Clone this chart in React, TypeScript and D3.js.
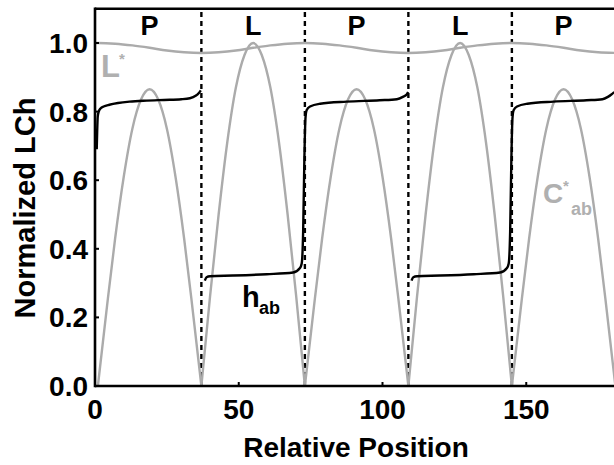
import React from "react";
import * as d3 from "d3";

// ---- data ----
const xTicks = [0, 50, 100, 150];
const yTicks = [0, 0.2, 0.4, 0.6, 0.8, 1.0];
const boundaries = [37, 73, 109, 145];
const regionLabels = ["P", "L", "P", "L", "P"];
const regionCenters = [19, 55, 91, 127, 163];

// C*ab chroma (grey arches)
const chromaX = [
  1, 4, 7, 10, 13, 16, 19, 22, 25, 28, 31, 34, 37,
  40, 43, 46, 49, 52, 55, 58, 61, 64, 67, 70, 73,
  76, 79, 82, 85, 88, 91, 94, 97, 100, 103, 106, 109,
  112, 115, 118, 121, 124, 127, 130, 133, 136, 139, 142, 145,
  148, 151, 154, 157, 160, 163, 166, 169, 172, 175, 178, 181,
];
const chromaY = [
  0, 0.22, 0.43, 0.61, 0.75, 0.835, 0.865, 0.835, 0.75, 0.61, 0.43, 0.22, 0,
  0.26, 0.5, 0.71, 0.87, 0.965, 1.0, 0.965, 0.87, 0.71, 0.5, 0.26, 0,
  0.22, 0.43, 0.61, 0.75, 0.835, 0.865, 0.835, 0.75, 0.61, 0.43, 0.22, 0,
  0.26, 0.5, 0.71, 0.87, 0.965, 1.0, 0.965, 0.87, 0.71, 0.5, 0.26, 0,
  0.22, 0.43, 0.61, 0.75, 0.835, 0.865, 0.835, 0.75, 0.61, 0.43, 0.22, 0,
];

// L* lightness (grey, near 1.0)
const lightX = [
  0, 1, 7, 13, 19, 25, 31, 37, 43, 49, 55, 61, 67, 73, 79, 85, 91, 97, 103, 109,
  115, 121, 127, 133, 139, 145, 151, 157, 163, 169, 175, 181,
];
const lightY = [
  1.0, 1.0, 0.998, 0.993, 0.986, 0.978, 0.973, 0.971, 0.973, 0.978, 0.986, 0.993, 0.998, 1.0,
  0.998, 0.993, 0.986, 0.978, 0.973, 0.971, 0.973, 0.978, 0.986, 0.993, 0.998, 1.0,
  0.998, 0.993, 0.986, 0.978, 0.973, 0.971,
];

// h_ab hue (black), three separate pieces
const hueP1: [number, number][] = [
  [0.6, 0.69], [0.75, 0.74], [0.95, 0.785], [1.3, 0.8], [2, 0.81], [3, 0.815], [5, 0.82],
  [8, 0.825], [12, 0.829], [18, 0.832], [24, 0.834], [30, 0.836], [33, 0.839], [35, 0.846],
  [36.2, 0.855], [36.8, 0.862],
];
const hueL1P2: [number, number][] = [
  [38.2, 0.307], [38.8, 0.317], [40, 0.32], [48, 0.322], [59.7, 0.326], [68.9, 0.331],
  [71.3, 0.344], [71.9, 0.357], [72.4, 0.45], [72.8, 0.65], [73.2, 0.78], [73.6, 0.804],
  [74.8, 0.815], [78.3, 0.823], [87.5, 0.829], [99, 0.833], [105, 0.836], [107.1, 0.843],
  [108.4, 0.85], [108.9, 0.857],
];
const hueL2P3: [number, number][] = [
  [110.1, 0.307], [110.7, 0.317], [112, 0.32], [120, 0.322], [131.7, 0.326], [140.9, 0.331],
  [143.3, 0.344], [143.9, 0.357], [144.4, 0.45], [144.8, 0.65], [145.2, 0.78], [145.6, 0.804],
  [146.8, 0.815], [150.4, 0.823], [159.5, 0.829], [171, 0.833], [176.5, 0.836], [178.4, 0.843],
  [179.6, 0.85], [180.6, 0.857],
];

const W = 614;
const H = 465;
const FONT = "'Liberation Sans', Arial, Helvetica, sans-serif";
const GREY = "#ababab";
const GREY_TEXT = "#b0b0b0";

export default function App() {
  const x = d3.scaleLinear().domain([0, 180]).range([95, 612.5]);
  const y = d3.scaleLinear().domain([0, 1.1]).range([386, 8.7]);

  const lineSmooth = d3
    .line<[number, number]>()
    .x((d) => x(d[0]))
    .y((d) => y(d[1]))
    .curve(d3.curveMonotoneX);

  // split chroma into arches at zero points
  const arches: [number, number][][] = [];
  let cur: [number, number][] = [];
  chromaX.forEach((cx, i) => {
    const p: [number, number] = [cx, chromaY[i]];
    cur.push(p);
    if (chromaY[i] === 0 && cur.length > 1) {
      arches.push(cur);
      cur = [p];
    }
  });
  if (cur.length > 1) arches.push(cur);

  const lightPts: [number, number][] = lightX.map((lx, i) => [lx, lightY[i]]);

  const x0 = x.range()[0];
  const yBot = y(0);
  const yTop = y(1.1);

  return (
    <svg
      width={W}
      height={H}
      style={{ position: "absolute", left: 0, top: 0, background: "#fff" }}
      fontFamily={FONT}
      fontWeight="bold"
    >
      <defs>
        <clipPath id="plotClip">
          <rect x={x0} y={yTop} width={W - x0} height={yBot - yTop} />
        </clipPath>
      </defs>

      <g clipPath="url(#plotClip)">
        {/* boundaries */}
        {boundaries.map((b) => (
          <line
            key={b}
            x1={x(b)}
            x2={x(b)}
            y1={yBot}
            y2={yTop}
            stroke="#000"
            strokeWidth={2.4}
            strokeDasharray="5,4"
          />
        ))}
        {/* L* */}
        <path d={lineSmooth(lightPts) || ""} fill="none" stroke={GREY} strokeWidth={2.4} />
        {/* C*ab */}
        {arches.map((a, i) => (
          <path key={i} d={lineSmooth(a) || ""} fill="none" stroke={GREY} strokeWidth={2.4} />
        ))}
        {/* h_ab */}
        {[hueP1, hueL1P2, hueL2P3].map((seg, i) => (
          <path key={i} d={lineSmooth(seg) || ""} fill="none" stroke="#000" strokeWidth={2.4} />
        ))}
      </g>

      {/* frame */}
      <line x1={x0} x2={W} y1={yTop} y2={yTop} stroke="#000" strokeWidth={2.6} />
      <line x1={x0} x2={W} y1={yBot} y2={yBot} stroke="#000" strokeWidth={2.6} />
      <line x1={x0} x2={x0} y1={yTop - 1.3} y2={yBot + 1.3} stroke="#000" strokeWidth={2.6} />

      {/* y ticks */}
      {yTicks.map((t) => (
        <g key={t}>
          <line x1={x0} x2={x0 + 4} y1={y(t)} y2={y(t)} stroke="#000" strokeWidth={2} />
          <text x={88} y={y(t)} dy="0.36em" textAnchor="end" fontSize={28} fill="#000">
            {t.toFixed(1)}
          </text>
        </g>
      ))}
      {/* x ticks */}
      {xTicks.map((t) => (
        <g key={t}>
          <line x1={x(t)} x2={x(t)} y1={yBot} y2={yBot - 4} stroke="#000" strokeWidth={2} />
          <text x={x(t)} y={419} textAnchor="middle" fontSize={28} fill="#000">
            {t}
          </text>
        </g>
      ))}

      {/* axis titles */}
      <text x={356} y={457} textAnchor="middle" fontSize={28} fill="#000">
        Relative Position
      </text>
      <text
        transform={`translate(35,208) rotate(-90)`}
        textAnchor="middle"
        fontSize={29}
        fill="#000"
      >
        Normalized LCh
      </text>

      {/* region labels */}
      {regionLabels.map((r, i) => (
        <text key={i} x={x(regionCenters[i])} y={35} textAnchor="middle" fontSize={27} fill="#000">
          {r}
        </text>
      ))}

      {/* series labels */}
      <text x={101} y={77} fontSize={31} fill={GREY_TEXT}>
        L
      </text>
      <text x={119} y={64} fontSize={15} fill={GREY_TEXT}>
        *
      </text>
      <text x={242} y={307} fontSize={29} fill="#000">
        h
      </text>
      <text x={259} y={314} fontSize={18} fill="#000">
        ab
      </text>
      <text x={543} y={203} fontSize={28} fill={GREY_TEXT}>
        C
      </text>
      <text x={563} y={191} fontSize={15} fill={GREY_TEXT}>
        *
      </text>
      <text x={571} y={215} fontSize={18} fill={GREY_TEXT}>
        ab
      </text>
    </svg>
  );
}
